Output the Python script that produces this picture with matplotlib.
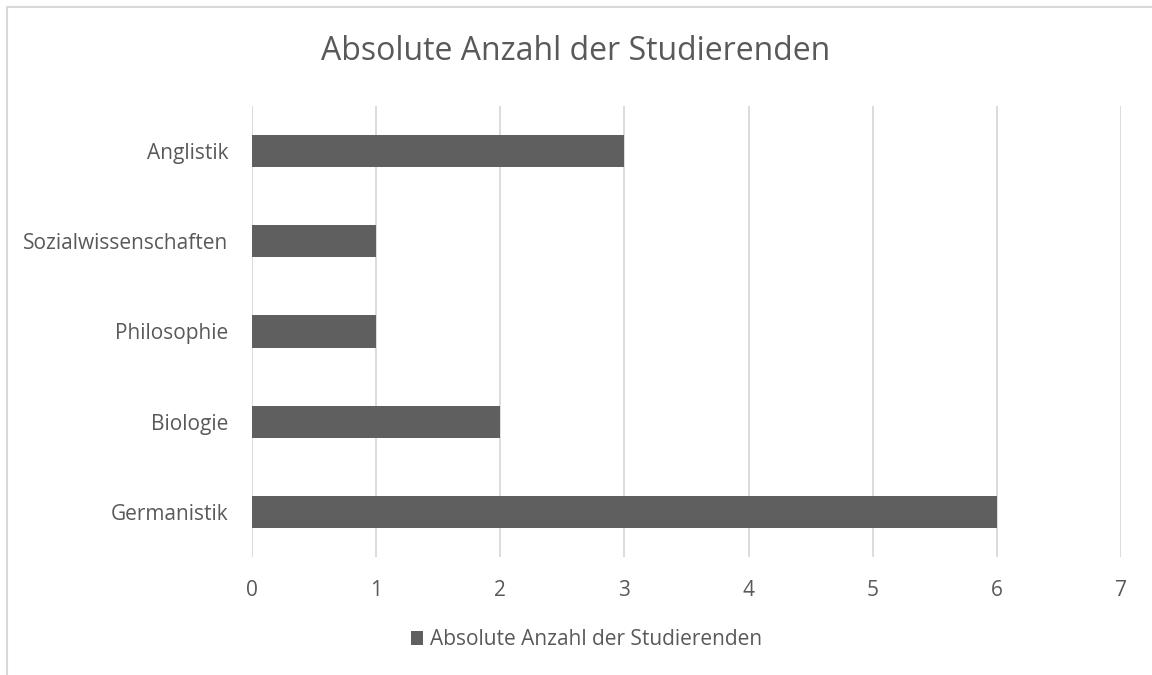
import matplotlib
matplotlib.use("Agg")
import matplotlib.pyplot as plt
import matplotlib.patches as mpatches

# Data
categories = ["Germanistik", "Biologie", "Philosophie", "Sozialwissenschaften", "Anglistik"]
counts = [6, 2, 1, 1, 3]
series_name = "Absolute Anzahl der Studierenden"
title = "Absolute Anzahl der Studierenden"

# Style
plt.rcParams.update({
    "font.family": ["Open Sans", "DejaVu Sans"],
    "text.color": "#595959",
})
C_BAR = "#5f5f5f"
C_GRID = "#d9d9d9"
C_TEXT = "#595959"

fig = plt.figure(figsize=(11.52, 6.75), dpi=100)
ax = fig.add_axes([0.21875, 0.1748, 0.7543, 0.6682])

# outer chart border (only top/left visible in the reference)
fig.patches.append(mpatches.Rectangle((0.0061, -0.05), 1.2, 1.04, transform=fig.transFigure,
                                      fill=False, edgecolor="#d9d9d9", lw=1.5))

y = range(len(categories))
ax.barh(y, counts, height=0.355, color=C_BAR, zorder=3, label=series_name)

ax.set_xlim(0, 7)
ax.set_ylim(-0.5, len(categories) - 0.5)
ax.set_xticks(range(0, 8))
ax.set_yticks(list(y))
ax.set_yticklabels(categories)
ax.tick_params(axis="both", length=0, labelsize=15, colors=C_TEXT)
ax.tick_params(axis="x", pad=16.5)
ax.tick_params(axis="y", pad=17)
ax.xaxis.grid(True, color=C_GRID, lw=1.3, zorder=0)
for s in ax.spines.values():
    s.set_visible(False)

fig.text(0.5, 0.923, title, ha="center", va="center", fontsize=23, color=C_TEXT)

leg = fig.legend(loc="center", bbox_to_anchor=(0.509, 0.052), frameon=False,
                 fontsize=15, handlelength=0.6, handleheight=0.6, handletextpad=0.3)
for t in leg.get_texts():
    t.set_color(C_TEXT)

fig.savefig("out.png", dpi=100, facecolor="white")
